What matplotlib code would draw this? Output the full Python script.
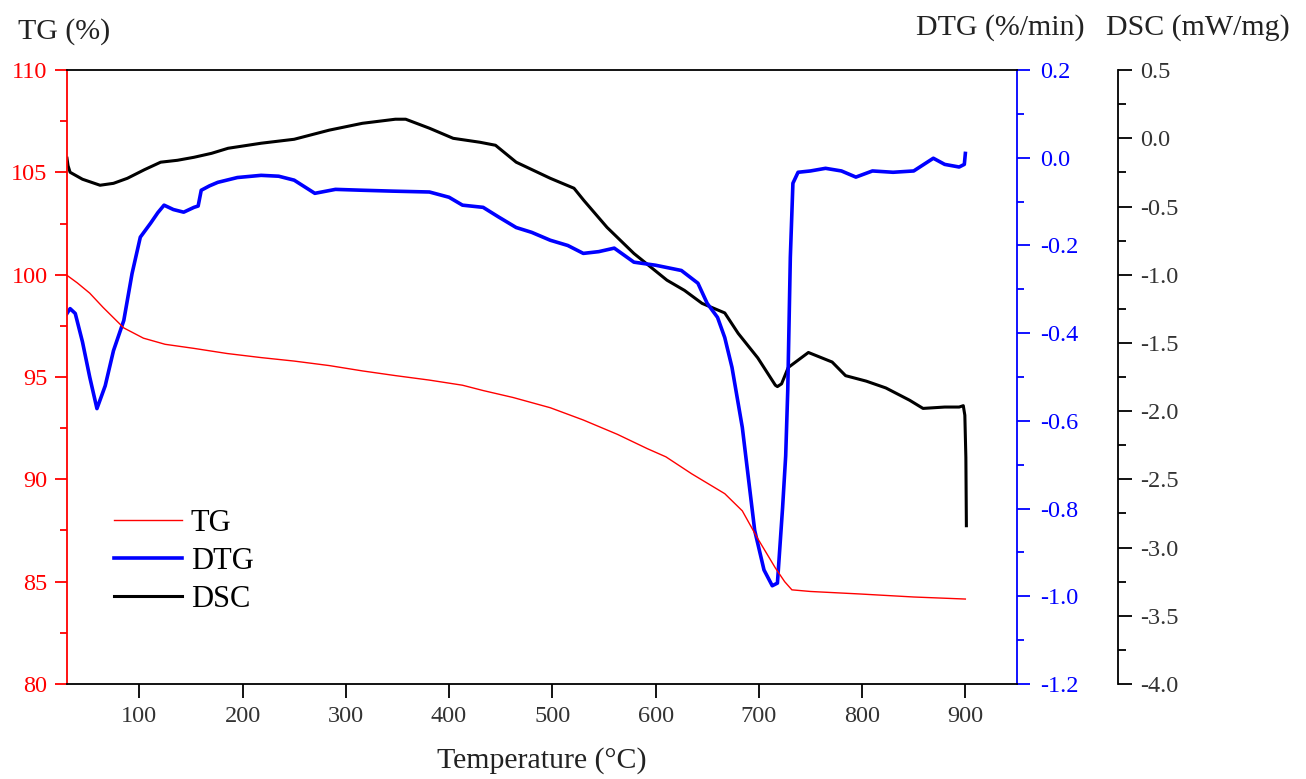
import numpy as np
import matplotlib.pyplot as plt
from matplotlib.ticker import MultipleLocator

plt.rcParams['font.family'] = ['Liberation Serif', 'DejaVu Serif']

# TG curve (%)
tg_t = [30, 40, 52, 65, 85, 104, 125, 153, 185, 218, 250, 284, 316, 348, 381, 413,
        433, 462, 498, 530, 563, 592, 610, 635, 667, 684, 699, 716, 725, 732, 750,
        797, 850, 900]
tg_v = [99.97, 99.6, 99.1, 98.4, 97.4, 96.9, 96.6, 96.4, 96.15, 95.95, 95.78, 95.56,
        95.3, 95.07, 94.85, 94.6, 94.34, 94.0, 93.5, 92.9, 92.2, 91.5, 91.1, 90.27,
        89.3, 88.46, 87.1, 85.67, 85.0, 84.6, 84.52, 84.4, 84.25, 84.15]

# DTG curve (%/min)
dtg_t = [30, 33, 38, 45, 52, 59, 67, 75, 85, 93, 101, 111, 118, 124, 133, 143, 153,
         157, 160, 168, 176, 195, 218, 235, 250, 270, 290, 316, 345, 381, 400, 413,
         433, 448, 465, 480, 498, 515, 530, 545, 560, 579, 600, 625, 641, 650, 660,
         667, 674, 684, 696, 705, 713, 718, 723, 726, 728, 730.5, 733, 738, 750,
         764.6, 780, 794, 810, 830, 850, 869, 880, 894, 899, 900]
dtg_v = [-0.355, -0.344, -0.355, -0.42, -0.5, -0.572, -0.52, -0.44, -0.371, -0.264,
         -0.181, -0.149, -0.125, -0.108, -0.118, -0.124, -0.113, -0.11, -0.074,
         -0.064, -0.056, -0.045, -0.04, -0.042, -0.051, -0.081, -0.072, -0.074,
         -0.076, -0.078, -0.09, -0.108, -0.113, -0.135, -0.159, -0.17, -0.188, -0.2,
         -0.218, -0.214, -0.206, -0.238, -0.245, -0.257, -0.286, -0.332, -0.364,
         -0.41, -0.478, -0.615, -0.85, -0.94, -0.976, -0.97, -0.798, -0.68, -0.531,
         -0.227, -0.058, -0.033, -0.03, -0.024, -0.03, -0.044, -0.03, -0.033,
         -0.03, -0.001, -0.015, -0.021, -0.015, 0.01]

# DSC curve (mW/mg)
dsc_t = [30, 31, 33, 45, 62, 75, 88.5, 105, 120.7, 137, 153, 170, 186, 218, 250,
         284, 316, 348, 358, 381, 404, 430, 445, 465, 498, 521, 530.5, 553, 579,
         611, 628, 645, 667, 680, 699, 716, 718, 722, 728.5, 748, 771, 784, 804,
         823, 846, 859, 880, 894, 898, 899.5, 900.5, 901]
dsc_v = [-0.146, -0.2, -0.249, -0.3, -0.344, -0.33, -0.293, -0.23, -0.175, -0.161,
         -0.139, -0.11, -0.073, -0.036, -0.007, 0.06, 0.11, 0.14, 0.14, 0.074, 0.0,
         -0.029, -0.051, -0.175, -0.293, -0.366, -0.455, -0.653, -0.844, -1.04,
         -1.115, -1.21, -1.28, -1.43, -1.61, -1.81, -1.82, -1.8, -1.68, -1.57, -1.64,
         -1.74, -1.78, -1.83, -1.92, -1.98, -1.97, -1.97, -1.96, -2.03, -2.34, -2.84]

fig = plt.figure(figsize=(13.06, 7.79), dpi=100)
ax = fig.add_axes([0.0513, 0.122, 0.7274, 0.788])
ax2 = ax.twinx()
ax3 = ax.twinx()

l_dsc, = ax3.plot(dsc_t, dsc_v, color='black', lw=2.2, label='DSC')
l_dtg, = ax2.plot(dtg_t, dtg_v, color='#0000ff', lw=2.6, label='DTG')
l_tg, = ax.plot(tg_t, tg_v, color='#ff0000', lw=1.0, label='TG')
ax.set_zorder(3)
ax.patch.set_visible(False)
ax2.set_zorder(2)

ax.set_xlim(30, 950)
ax.set_ylim(80, 110)
ax2.set_ylim(-1.2, 0.2)
ax3.set_ylim(-4.0, 0.5)

ax.set_xticks(range(100, 901, 100))
ax.yaxis.set_major_locator(MultipleLocator(5))
ax.yaxis.set_minor_locator(MultipleLocator(2.5))
ax2.yaxis.set_major_locator(MultipleLocator(0.2))
ax2.yaxis.set_minor_locator(MultipleLocator(0.1))
ax3.yaxis.set_major_locator(MultipleLocator(0.5))
ax3.yaxis.set_minor_locator(MultipleLocator(0.25))

ax.yaxis.set_major_formatter(lambda v, p: f'{v:.0f}')
ax2.yaxis.set_major_formatter(lambda v, p: f'{v:.1f}')
ax3.yaxis.set_major_formatter(lambda v, p: f'{v:.1f}')

# spines
ax.spines['left'].set_color('#ff0000')
ax.spines['right'].set_visible(False)
ax.spines['top'].set_color('black')
for s in ['left', 'top', 'bottom']:
    ax2.spines[s].set_visible(False)
    ax3.spines[s].set_visible(False)
ax2.spines['right'].set_color('#0000ff')
ax3.spines['right'].set_position(('axes', 1.1063))
for a in (ax, ax2, ax3):
    for s in a.spines.values():
        s.set_linewidth(1.3)

ax.tick_params(axis='y', which='major', direction='out', length=9, width=1.3,
               colors='#ff0000', labelsize=17.5, pad=5)
ax.tick_params(axis='y', which='minor', direction='out', length=5, width=1.3,
               colors='#ff0000')
ax.tick_params(axis='x', which='major', direction='out', length=10, width=1.3,
               colors='black', labelcolor='#333333', labelsize=17.5, pad=6)
ax2.tick_params(axis='y', which='major', direction='out', length=9, width=1.3,
                colors='#0000ff', labelsize=17.5, pad=8)
ax2.tick_params(axis='y', which='minor', direction='out', length=5, width=1.3,
                colors='#0000ff')
ax3.tick_params(axis='y', which='major', direction='out', length=10, width=1.3,
                colors='black', labelcolor='#333333', labelsize=17.5, pad=6)
ax3.tick_params(axis='y', which='minor', direction='out', length=6, width=1.3,
                colors='black')

fig.text(18 / 1306, 1 - 32 / 779, 'TG (%)', fontsize=21.5, color='#222222',
         ha='left', va='center')
fig.text(1085 / 1306, 1 - 28 / 779, 'DTG (%/min)', fontsize=21.5, color='#222222',
         ha='right', va='center')
fig.text(1290 / 1306, 1 - 28 / 779, 'DSC (mW/mg)', fontsize=21.5, color='#222222',
         ha='right', va='center')
ax.set_xlabel('Temperature (°C)', fontsize=21.5, color='#222222', labelpad=14)

ax.legend(handles=[l_tg, l_dtg, l_dsc], loc='lower left',
          bbox_to_anchor=(0.037, 0.094), frameon=False, fontsize=22,
          handlelength=2.2, handletextpad=0.3, labelspacing=0.3,
          borderaxespad=0)

fig.savefig('out.png', dpi=100)
